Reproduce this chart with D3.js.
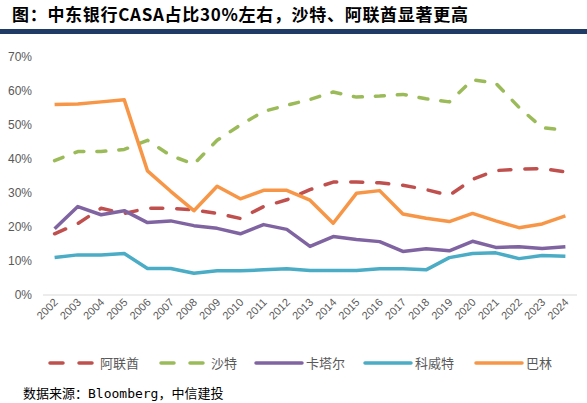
<!DOCTYPE html>
<html>
<head>
<meta charset="utf-8">
<script src="https://cdn.jsdelivr.net/npm/d3@7/dist/d3.min.js"></script>
<style>
    body{ margin:0; background:#fff; }
    svg text{ font-family:"Liberation Sans", Arial, "Noto Sans CJK SC", sans-serif; }
</style>
</head>
<body>
<div id="chart"></div>
<script>

    var years = ["2002","2003","2004","2005","2006","2007","2008","2009","2010","2011","2012","2013",
                 "2014","2015","2016","2017","2018","2019","2020","2021","2022","2023","2024"]

    var uae     = [18,21,25.5,24,25.5,25.5,25,24,22.5,26,28,31,33.2,33.2,33,32.3,31,29.3,34,36.6,37,37.2,36.2]
    var saudi   = [39.5,42.2,42.2,42.8,45.5,41,38.5,45.5,50,54,55.8,57.5,59.7,58.2,58.5,59,57.7,56.8,63.3,62.3,55.2,49.2,48.5]
    var qatar   = [19.5,26,23.6,24.8,21.3,21.8,20.4,19.6,18,20.7,19.3,14.3,17.2,16.3,15.7,12.8,13.6,13,15.8,14,14.2,13.7,14.2]
    var kuwait  = [11,11.8,11.8,12.2,7.8,7.8,6.4,7.1,7.1,7.4,7.7,7.2,7.2,7.2,7.7,7.7,7.4,11,12.2,12.4,10.7,11.6,11.4]
    var bahrain = [56,56.2,56.8,57.4,36.5,30.5,24.8,32,28.3,30.8,30.8,27.9,21.1,29.9,30.7,23.8,22.6,21.6,24,21.8,19.8,20.9,23.3]

    var yTicks = [0,10,20,30,40,50,60,70]

    var series = [
        {name:"阿联酋", values:uae,     color:"#C0504D", dash:"12,14"},
        {name:"沙特",   values:saudi,   color:"#9BBB59", dash:"9,13"},
        {name:"卡塔尔", values:qatar,   color:"#8064A2", dash:null},
        {name:"科威特", values:kuwait,  color:"#4BACC6", dash:null},
        {name:"巴林",   values:bahrain, color:"#F79646", dash:null}
    ]

    var W = 587, H = 403
    var svg = d3.select("#chart").append("svg").attr("width",W).attr("height",H)

    // title + navy rule
    svg.append("text").text("图：中东银行CASA占比30%左右，沙特、阿联酋显著更高")
        .attr("x",12).attr("y",21)
        .attr("font-size",17).attr("font-weight","bold")
        .attr("letter-spacing",0.7)
        .style("font-family","'Noto Sans CJK SC', sans-serif")
        .attr("fill","#000")
    svg.append("rect").attr("x",0).attr("y",29).attr("width",W).attr("height",5).attr("fill","#1F3B66")

    var xScale = d3.scalePoint().domain(years).range([43,577]).padding(0.5)
    var yScale = d3.scaleLinear().domain([0,70]).range([295,57])

    // y labels
    svg.selectAll(".ylab").data(yTicks).enter().append("text")
        .attr("class","ylab")
        .attr("x",32).attr("y",function(d){return yScale(d)+4})
        .attr("text-anchor","end")
        .attr("font-size",12).attr("fill","#595959")
        .text(function(d){return d+"%"})

    // baseline
    svg.append("line").attr("x1",43).attr("x2",577)
        .attr("y1",yScale(0)).attr("y2",yScale(0))
        .attr("stroke","#D9D9D9").attr("stroke-width",1)

    // x labels rotated
    svg.selectAll(".xlab").data(years).enter().append("text")
        .attr("class","xlab")
        .attr("transform",function(d){return "translate("+(xScale(d)+4)+",303) rotate(-45)"})
        .attr("text-anchor","end")
        .attr("font-size",11).attr("fill","#595959")
        .text(function(d){return d})

    var line = d3.line()
        .x(function(d,i){return xScale(years[i])})
        .y(function(d){return yScale(d)})

    series.forEach(function(s){
        svg.append("path")
            .attr("d",line(s.values))
            .attr("fill","none")
            .attr("stroke",s.color)
            .attr("stroke-width",3.5)
            .attr("stroke-linejoin","round")
            .attr("stroke-linecap", s.dash ? "round" : "butt")
            .attr("stroke-dasharray", s.dash)
    })

    // legend
    var legX = [48,159,256,365,476]
    var legend = svg.selectAll(".leg").data(series).enter().append("g")
        .attr("transform",function(d,i){return "translate("+legX[i]+",363)"})
    legend.append("line")
        .attr("x1",function(d){return d.dash ? 2 : 0})
        .attr("x2",function(d){return d.dash ? 44 : 46})
        .attr("y1",0).attr("y2",0)
        .attr("stroke",function(d){return d.color})
        .attr("stroke-width",3.5)
        .attr("stroke-linecap","round")
        .attr("stroke-dasharray",function(d){return d.dash ? "13,16" : null})
    legend.append("text")
        .attr("x",function(d){return d.dash ? 52 : 50}).attr("y",5)
        .attr("font-size",13).attr("fill","#595959")
        .style("font-family","'Noto Sans CJK SC', sans-serif")
        .text(function(d){return d.name})

    // source
    svg.append("text").text("数据来源：Bloomberg，中信建投")
        .attr("x",23).attr("y",398)
        .attr("font-size",13).attr("fill","#000")
        .style("font-family","'DejaVu Sans Mono', 'Noto Sans CJK SC', monospace")

</script>
</body>
</html>
